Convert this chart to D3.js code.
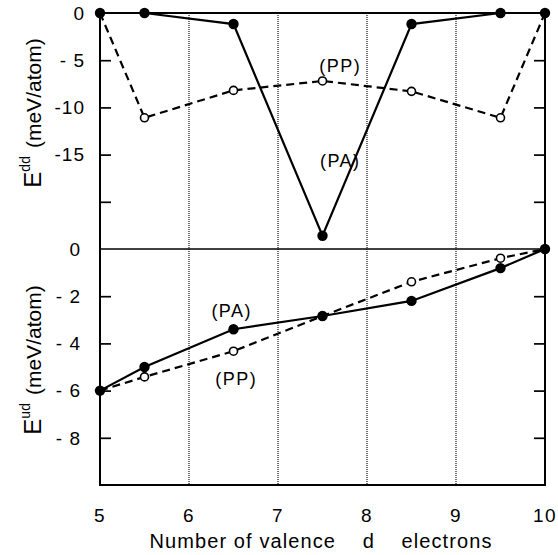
<!DOCTYPE html>
<html>
<head>
<meta charset="utf-8">
<script src="https://cdn.jsdelivr.net/npm/d3@7"></script>
<style>
  body { margin: 0; background: #fff; }
  svg { display: block; font-family: "Liberation Sans", Arial, sans-serif; }
</style>
</head>
<body>
<script>
// number of valence d electrons
var electrons = [5, 5.5, 6.5, 7.5, 8.5, 9.5, 10];

// E^dd (meV/atom), upper panel
var ddPA = [0, 0, -1.17, -23.6, -1.17, 0, 0];
var ddPP = [0, -11.1, -8.2, -7.2, -8.3, -11.1, 0];

// E^ud (meV/atom), lower panel
var udPA = [-6, -5.0, -3.40, -2.84, -2.20, -0.81, 0];
var udPP = [-6, -5.42, -4.33, -2.84, -1.39, -0.39, 0];

var xTicks = [5, 6, 7, 8, 9, 10];
var gridTicks = [6, 7, 8, 9];
var ddTicks = [0, -5, -10, -15, -20];
var ddLabels = ["0", "- 5", "-10", "-15", ""];
var udTicks = [0, -2, -4, -6, -8];
var udLabels = ["0", "- 2", "- 4", "- 6", "- 8"];

var width = 558, height = 555;
var pLeft = 100, pRight = 545, pTop = 13, pMid = 249, pBottom = 485;

var svg = d3.select("body").append("svg")
  .attr("width", width)
  .attr("height", height);

var x = d3.scaleLinear().domain([5, 10]).range([pLeft, pRight]);
var yTop = d3.scaleLinear().domain([0, -25]).range([pTop, pMid]);
var yBot = d3.scaleLinear().domain([0, -10]).range([pMid, pBottom]);

// dotted grid lines through both panels
svg.append("g")
  .selectAll("line")
  .data(gridTicks)
  .enter()
  .append("line")
  .attr("x1", function(d) { return x(d); })
  .attr("x2", function(d) { return x(d); })
  .attr("y1", pTop)
  .attr("y2", pBottom)
  .attr("stroke", "#111")
  .attr("stroke-width", 1.2)
  .attr("stroke-dasharray", "1,1");

// frame and panel divider
svg.append("rect")
  .attr("x", pLeft).attr("y", pTop)
  .attr("width", pRight - pLeft).attr("height", pBottom - pTop)
  .attr("fill", "none").attr("stroke", "#000").attr("stroke-width", 2);
svg.append("line")
  .attr("x1", pLeft).attr("x2", pRight)
  .attr("y1", pMid).attr("y2", pMid)
  .attr("stroke", "#000").attr("stroke-width", 1.5);

function panelAxes(y, ticks, labels, labelRight) {
  // inward ticks on both sides
  svg.append("g")
    .attr("transform", "translate(" + pLeft + ",0)")
    .call(d3.axisRight(y).tickValues(ticks.slice(1)).tickSize(11).tickFormat(""))
    .call(function(g) { g.select(".domain").remove(); })
    .selectAll("line").attr("stroke-width", 1.7);
  svg.append("g")
    .attr("transform", "translate(" + pRight + ",0)")
    .call(d3.axisLeft(y).tickValues(ticks.slice(1)).tickSize(11).tickFormat(""))
    .call(function(g) { g.select(".domain").remove(); })
    .selectAll("line").attr("stroke-width", 1.7);

  svg.append("g")
    .selectAll("text")
    .data(ticks)
    .enter()
    .append("text")
    .attr("x", labelRight)
    .attr("y", function(d) { return y(d); })
    .attr("dy", "0.36em")
    .attr("text-anchor", "end")
    .attr("font-size", 19)
    .attr("letter-spacing", 1)
    .text(function(d, i) { return labels[i]; });
}

panelAxes(yTop, ddTicks, ddLabels, 85);
panelAxes(yBot, udTicks, udLabels, 81);

// x tick labels
svg.append("g")
  .selectAll("text")
  .data(xTicks)
  .enter()
  .append("text")
  .attr("x", function(d) { return x(d); })
  .attr("y", 515)
  .attr("dy", "0.36em")
  .attr("text-anchor", "middle")
  .attr("font-size", 19)
  .attr("letter-spacing", 1.5)
  .text(function(d) { return d; });

svg.append("text")
  .attr("x", 321)
  .attr("y", 548)
  .attr("text-anchor", "middle")
  .attr("font-size", 20)
  .attr("letter-spacing", 1.1)
  .style("white-space", "pre")
  .text("Number of valence    d    electrons");

// rotated y titles with superscripts
function yTitle(cy, sup) {
  var t = svg.append("text")
    .attr("transform", "translate(41," + cy + ") rotate(-90)")
    .attr("text-anchor", "middle")
    .attr("font-size", 21);
  t.append("tspan").attr("font-size", 24).text("E");
  t.append("tspan").attr("font-size", 14).attr("dy", -11).text(sup);
  t.append("tspan").attr("dy", 11).attr("dx", 8).text("(meV/atom)");
}
yTitle(113, "dd");
yTitle(360, "ud");

function series(y, values, dashed) {
  var pts = electrons.map(function(e, i) { return [e, values[i]]; });
  var line = d3.line()
    .x(function(d) { return x(d[0]); })
    .y(function(d) { return y(d[1]); });
  svg.append("path")
    .datum(pts)
    .attr("d", line)
    .attr("fill", "none")
    .attr("stroke", "#000")
    .attr("stroke-width", 2.2)
    .attr("stroke-dasharray", dashed ? "8,5" : null);
  return pts;
}

function markers(y, pts, filled) {
  svg.append("g")
    .selectAll("circle")
    .data(pts)
    .enter()
    .append("circle")
    .attr("cx", function(d) { return x(d[0]); })
    .attr("cy", function(d) { return y(d[1]); })
    .attr("r", filled ? 5.2 : 4)
    .attr("fill", filled ? "#000" : "#fff")
    .attr("stroke", "#000")
    .attr("stroke-width", filled ? 0 : 1.6);
}

var tpp = series(yTop, ddPP, true);
var tpa = series(yTop, ddPA, false);
markers(yTop, tpp.slice(1, 6), false);
markers(yTop, tpa, true);

var bpp = series(yBot, udPP, true);
var bpa = series(yBot, udPA, false);
markers(yBot, bpp.slice(1, 6), false);
markers(yBot, bpa, true);

// curve labels
var notes = [
  { text: "(PP)", x: 7.7, y: yTop(-5.6) },
  { text: "(PA)", x: 7.7, y: yTop(-15.6) },
  { text: "(PA)", x: 6.48, y: yBot(-2.6) },
  { text: "(PP)", x: 6.53, y: yBot(-5.5) }
];
svg.append("g")
  .selectAll("text")
  .data(notes)
  .enter()
  .append("text")
  .attr("x", function(d) { return x(d.x); })
  .attr("y", function(d) { return d.y; })
  .attr("dy", "0.36em")
  .attr("text-anchor", "middle")
  .attr("font-size", 18)
  .attr("letter-spacing", 1.5)
  .text(function(d) { return d.text; });
</script>
</body>
</html>
